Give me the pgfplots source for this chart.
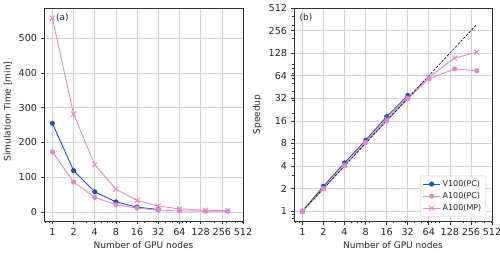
\documentclass[border=0pt]{standalone}
\usepackage{fontspec}
\setmainfont{DejaVu Sans}
\usepackage{pgfplots}
\pgfplotsset{compat=1.18}
\definecolor{cblue}{HTML}{2A4DB0}
\definecolor{cpink}{HTML}{D98CC7}
\definecolor{tgray}{HTML}{262626}
\begin{document}
\begin{tikzpicture}
\path[use as bounding box] (0,0) rectangle (500pt,254pt);
% ---------- (a) ----------
\begin{axis}[at={(44pt,33pt)}, anchor=south west,
  scale only axis, width=199pt, height=213pt,
  xmode=log, xmin=0.76, xmax=512,
  xtick={1,2,4,8,16,32,64,128,256,512},
  xticklabels={1,2,4,8,16,32,64,128,256,512},
  minor xtick={0.8,0.9,3,5,6,7,9,20,30,40,50,60,70,80,90,200,300,400,500},
  tick align=outside, xtick pos=bottom, ytick pos=left,
  major tick length=3.5pt, minor tick length=2pt,
  xmajorgrids, ymajorgrids, major grid style={gray!35, line width=0.6pt},
  axis line style={black!80, line width=0.6pt},
  tick style={black!80, line width=0.6pt},
  tick label style={font=\fontsize{9.6}{11}\selectfont, text=tgray},
  label style={font=\fontsize{9}{10}\selectfont, text=tgray},
  ylabel style={xshift=3pt},
  xlabel={Number of GPU nodes},
  ymin=-26, ymax=587, ytick={0,100,200,300,400,500},
  yticklabels={0,100,200,300,400,500},
  ylabel={Simulation Time [min]}]
\addplot[cblue, line width=0.9pt, mark=*, mark size=2.1pt] coordinates {
 (1,255) (2,119) (4,58) (8,29) (16,14) (32,7)};
\addplot[cpink, line width=0.9pt, mark=*, mark size=2.1pt] coordinates {
 (1,173) (2,86) (4,42) (8,21) (16,11) (32,5.5) (64,3) (150,2.2) (310,2.3)};
\addplot[cpink, line width=0.9pt, mark=x, mark size=3.5pt] coordinates {
 (1,558) (2,282) (4,136) (8,66) (16,33) (32,17) (64,9) (150,5) (310,4.3)};
\node[anchor=west, font=\fontsize{9}{10}\selectfont, text=tgray, inner sep=0pt] at (rel axis cs:0.06,0.953) {(a)};
\end{axis}
% ---------- (b) ----------
\begin{axis}[at={(294pt,33pt)}, anchor=south west,
  scale only axis, width=198pt, height=213pt,
  xmode=log, xmin=0.76, xmax=512,
  xtick={1,2,4,8,16,32,64,128,256,512},
  xticklabels={1,2,4,8,16,32,64,128,256,512},
  minor xtick={0.8,0.9,3,5,6,7,9,20,30,40,50,60,70,80,90,200,300,400,500},
  tick align=outside, xtick pos=bottom, ytick pos=left,
  major tick length=3.5pt, minor tick length=2pt,
  xmajorgrids, ymajorgrids, major grid style={gray!35, line width=0.6pt},
  axis line style={black!80, line width=0.6pt},
  tick style={black!80, line width=0.6pt},
  tick label style={font=\fontsize{9.6}{11}\selectfont, text=tgray},
  label style={font=\fontsize{9}{10}\selectfont, text=tgray},
  xlabel={Number of GPU nodes},
  ymode=log, ymin=0.74, ymax=512,
  ytick={1,2,4,8,16,32,64,128,256,512},
  yticklabels={1,2,4,8,16,32,64,128,256,512},
  minor ytick={0.8,0.9,3,5,6,7,9,20,30,40,50,60,70,80,90,200,300,400,500},
  ylabel={Speedup},
  legend style={at={(0.97,0.02)}, anchor=south east, draw=gray!40, rounded corners=2pt,
    font=\fontsize{8}{9.5}\selectfont, text=tgray, row sep=0.5pt, inner sep=2.5pt},
  legend cell align=left]
\addplot[cblue, line width=0.9pt, mark=*, mark size=2.1pt] coordinates {
 (1,1) (2,2.15) (4,4.4) (8,8.8) (16,18.2) (32,35)};
\addlegendentry{V100(PC)}
\addplot[cpink, line width=0.9pt, mark=*, mark size=2.1pt] coordinates {
 (1,1) (2,2) (4,4.1) (8,8.2) (16,16) (32,31.5) (64,58) (150,79) (310,74.5)};
\addlegendentry{A100(PC)}
\addplot[cpink, line width=0.9pt, mark=x, mark size=3.5pt] coordinates {
 (1,1) (2,1.98) (4,4.1) (8,8.4) (16,16.9) (32,32.8) (64,61) (150,110) (310,132)};
\addlegendentry{A100(MP)}
\addplot[black, line width=0.6pt, dash pattern=on 2.5pt off 1.5pt, forget plot] coordinates {
 (1,1) (310,310)};
\node[anchor=west, font=\fontsize{9}{10}\selectfont, text=tgray, inner sep=0pt] at (rel axis cs:0.027,0.953) {(b)};
\end{axis}
\end{tikzpicture}
\end{document}
